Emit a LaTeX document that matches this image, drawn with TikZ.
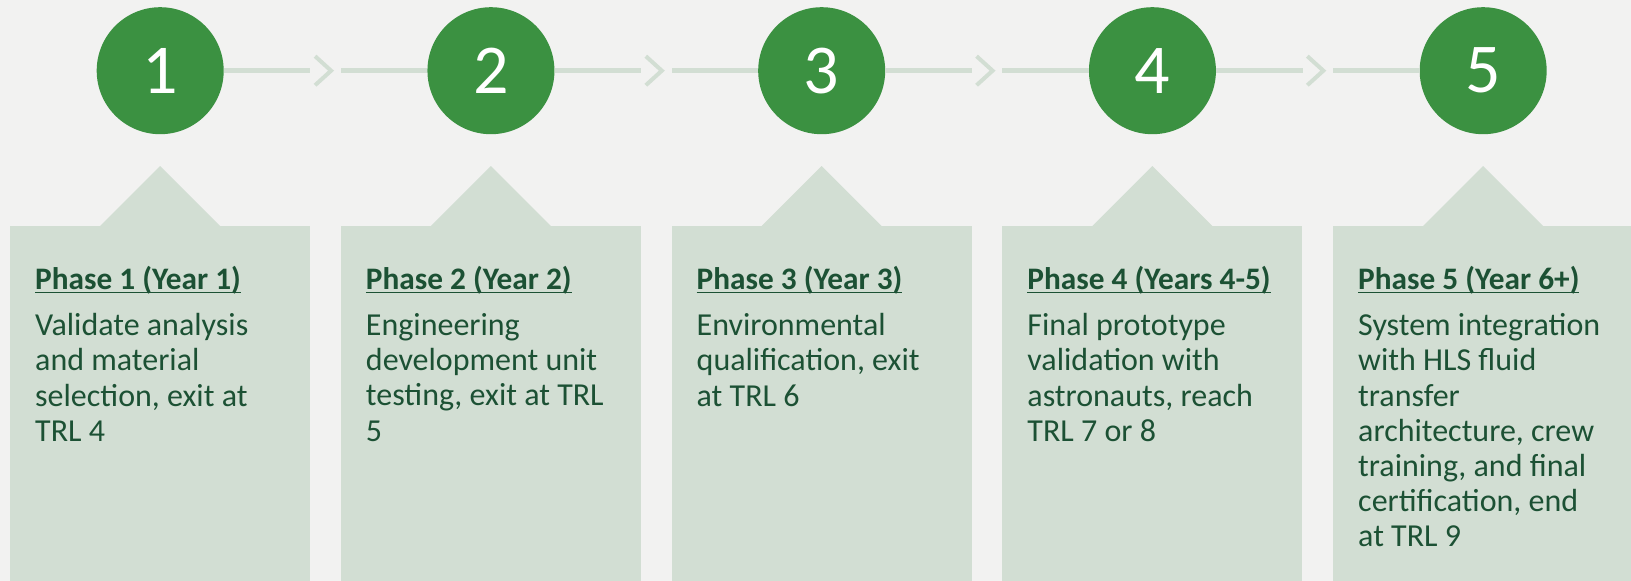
\documentclass[tikz,border=0pt]{standalone}
\usepackage{fontspec}
\setmainfont{Carlito}
\usetikzlibrary{matrix,calc}
\definecolor{pagebg}{HTML}{F2F2F1}
\definecolor{cardgreen}{HTML}{D2DED3}
\definecolor{dotgreen}{HTML}{3B9141}
\definecolor{inkgreen}{HTML}{1C5134}
\newlength\headwd
\newcommand{\headline}[1]{\settowidth{\headwd}{#1}\rlap{\rule[-4.4pt]{\headwd}{1.8pt}}#1}

\tikzset{
  phasedot/.style={circle, fill=dotgreen, minimum size=127pt, inner sep=0pt, text=white, font=\fontsize{70}{70}\selectfont},
  card/.style={fill=cardgreen, minimum width=300pt, minimum height=355pt, inner sep=0pt},
  track/.style={draw=cardgreen, line width=4.5pt},
  chevron/.style={draw=cardgreen, line width=4pt},
  phasehead/.style={anchor=base west, inner sep=0pt, text=inkgreen, font=\fontsize{31.3}{35}\selectfont\bfseries},
  phasebody/.style={anchor=north west, inner sep=0pt, align=left, text=inkgreen, font=\fontsize{32}{35.2}\selectfont, execute at begin node=\strut},
}

\begin{document}
\begin{tikzpicture}[x=1pt, y=-1pt]
			\fill[pagebg] (0,0) rectangle (1631,581);
			\useasboundingbox (0,0) rectangle (1631,581);
			\matrix (m) [matrix of nodes, anchor=north west, inner sep=0pt, column sep=30.75pt, row sep=92pt, nodes={anchor=center}] at (10,7)
			{
				|[phasedot]| 1 & |[phasedot]| 2 & |[phasedot]| 3 & |[phasedot]| 4 & |[phasedot]| 5 \\
				|[card]| \mbox{} & |[card]| \mbox{} & |[card]| \mbox{} & |[card]| \mbox{} & |[card]| \mbox{} \\
			};
			% pointers from the cards up to the circles
			\fill[cardgreen] ([xshift=-60pt]m-2-1.north) -- ([yshift=60pt]m-2-1.north) -- ([xshift=60pt]m-2-1.north) -- cycle;
			\fill[cardgreen] ([xshift=-60pt]m-2-2.north) -- ([yshift=60pt]m-2-2.north) -- ([xshift=60pt]m-2-2.north) -- cycle;
			\fill[cardgreen] ([xshift=-60pt]m-2-3.north) -- ([yshift=60pt]m-2-3.north) -- ([xshift=60pt]m-2-3.north) -- cycle;
			\fill[cardgreen] ([xshift=-60pt]m-2-4.north) -- ([yshift=60pt]m-2-4.north) -- ([xshift=60pt]m-2-4.north) -- cycle;
			\fill[cardgreen] ([xshift=-60pt]m-2-5.north) -- ([yshift=60pt]m-2-5.north) -- ([xshift=60pt]m-2-5.north) -- cycle;
			% timeline
			\path[track]
			(m-1-1.east) edge (m-2-1.north east |- m-1-1.east)
			(m-1-2.west) edge (m-2-2.north west |- m-1-2.west)
			(m-1-2.east) edge (m-2-2.north east |- m-1-2.east)
			(m-1-3.west) edge (m-2-3.north west |- m-1-3.west)
			(m-1-3.east) edge (m-2-3.north east |- m-1-3.east)
			(m-1-4.west) edge (m-2-4.north west |- m-1-4.west)
			(m-1-4.east) edge (m-2-4.north east |- m-1-4.east)
			(m-1-5.west) edge (m-2-5.north west |- m-1-5.west);
			\coordinate (g12) at ($(m-2-1.north east |- m-1-1)!0.5!(m-2-2.north west |- m-1-2)$);
			\coordinate (g23) at ($(m-2-2.north east |- m-1-2)!0.5!(m-2-3.north west |- m-1-3)$);
			\coordinate (g34) at ($(m-2-3.north east |- m-1-3)!0.5!(m-2-4.north west |- m-1-4)$);
			\coordinate (g45) at ($(m-2-4.north east |- m-1-4)!0.5!(m-2-5.north west |- m-1-5)$);
			\draw[chevron] ([shift={(-10.5,-14.5)}]g12) -- ([shift={(5.5,0)}]g12) -- ([shift={(-10.5,14.5)}]g12);
			\draw[chevron] ([shift={(-10.5,-14.5)}]g23) -- ([shift={(5.5,0)}]g23) -- ([shift={(-10.5,14.5)}]g23);
			\draw[chevron] ([shift={(-10.5,-14.5)}]g34) -- ([shift={(5.5,0)}]g34) -- ([shift={(-10.5,14.5)}]g34);
			\draw[chevron] ([shift={(-10.5,-14.5)}]g45) -- ([shift={(5.5,0)}]g45) -- ([shift={(-10.5,14.5)}]g45);
			% card texts
			\node[phasehead] (h1) at ([shift={(25,63)}]m-2-1.north west) {\headline{Phase 1 (Year 1)}};
			\node[phasehead] (h2) at ([shift={(25,63)}]m-2-2.north west) {\headline{Phase 2 (Year 2)}};
			\node[phasehead] (h3) at ([shift={(25,63)}]m-2-3.north west) {\headline{Phase 3 (Year 3)}};
			\node[phasehead] (h4) at ([shift={(25,63)}]m-2-4.north west) {\headline{Phase 4 (Years 4-5)}};
			\node[phasehead] (h5) at ([shift={(25,63)}]m-2-5.north west) {\headline{Phase 5 (Year 6+)}};
			\node[phasebody] (t1) at ([yshift=-24.36pt]h1.base west) {Validate analysis\\and material\\selection, exit at\\TRL 4};
			\node[phasebody] (t2) at ([yshift=-24.36pt]h2.base west) {Engineering\\development unit\\testing, exit at TRL\\5};
			\node[phasebody] (t3) at ([yshift=-24.36pt]h3.base west) {Environmental\\qualification, exit\\at TRL 6};
			\node[phasebody] (t4) at ([yshift=-24.36pt]h4.base west) {Final prototype\\validation with\\astronauts, reach\\TRL 7 or 8};
			\node[phasebody] (t5) at ([yshift=-24.36pt]h5.base west) {System integration\\with HLS fluid\\transfer\\architecture, crew\\training, and final\\certification, end\\at TRL 9};
		\end{tikzpicture}
\end{document}
